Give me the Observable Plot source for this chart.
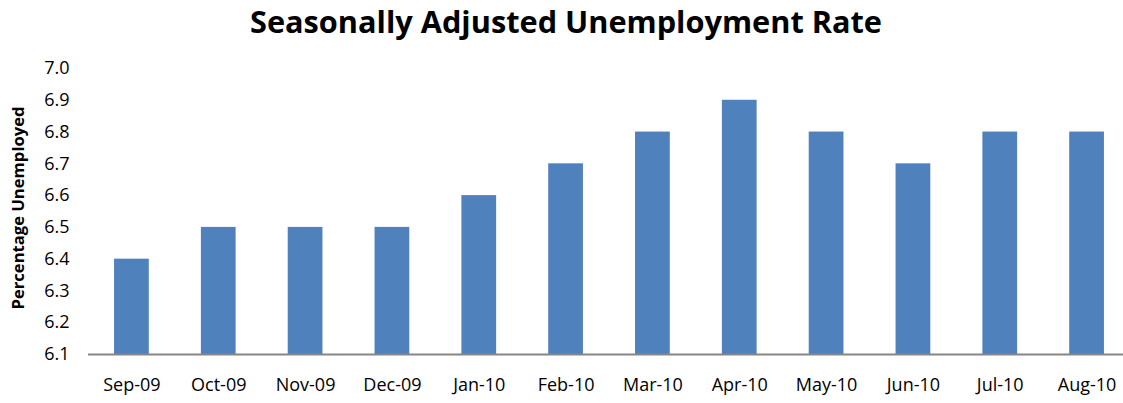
<!DOCTYPE html>
<html>
<head>
<meta charset="utf-8">
<script src="https://cdn.jsdelivr.net/npm/d3@7"></script>
<script src="https://cdn.jsdelivr.net/npm/@observablehq/plot@0.6"></script>
<style>
  html, body { margin: 0; padding: 0; background: #fff; overflow: hidden; }
  svg { display: block; }
</style>
</head>
<body>
<div id="chart"></div>
<script>
const months = ["Sep-09","Oct-09","Nov-09","Dec-09","Jan-10","Feb-10","Mar-10","Apr-10","May-10","Jun-10","Jul-10","Aug-10"];
const rates = [6.4, 6.5, 6.5, 6.5, 6.6, 6.7, 6.8, 6.9, 6.8, 6.7, 6.8, 6.8];
const yTicks = [6.1, 6.2, 6.3, 6.4, 6.5, 6.6, 6.7, 6.8, 6.9, 7.0];
const titleText = "Seasonally Adjusted Unemployment Rate";
const yLabel = "Percentage Unemployed";

const data = months.map((m, i) => ({month: m, rate: rates[i]}));

const chart = Plot.plot({
  width: 1123,
  height: 403,
  marginTop: 68,
  marginBottom: 49,
  marginLeft: 88,
  marginRight: 0,
  style: {fontFamily: "Open Sans", fontSize: "18px", color: "#000", background: "#fff"},
  x: {domain: months, range: [88, 1130], paddingInner: 0.6, paddingOuter: 0.3, round: false, label: null},
  y: {domain: [6.1, 7.0], label: null},
  marks: [
    Plot.barY(data, {x: "month", y1: 6.1, y2: "rate", fill: "#4F81BD"}),
    Plot.ruleY([6.1], {stroke: "#868686", strokeWidth: 2}),
    Plot.axisX({tickSize: 0, tickPadding: 24, fontSize: 18, label: null}),
    Plot.axisY({ticks: yTicks, tickFormat: d => d.toFixed(1), tickSize: 0, tickPadding: 19, fontSize: 18, label: null})
  ]
});

const svg = d3.select(chart);
svg.append("text")
  .attr("x", 566).attr("y", 33)
  .attr("text-anchor", "middle")
  .attr("font-family", "Open Sans")
  .attr("font-weight", "bold")
  .attr("font-size", 31)
  .attr("textLength", 632)
  .attr("lengthAdjust", "spacingAndGlyphs")
  .attr("fill", "#000")
  .text(titleText);
svg.append("text")
  .attr("transform", "translate(24,208) rotate(-90)")
  .attr("text-anchor", "middle")
  .attr("font-family", "Open Sans")
  .attr("font-weight", "bold")
  .attr("font-size", 16.5)
  .attr("textLength", 203)
  .attr("lengthAdjust", "spacingAndGlyphs")
  .attr("fill", "#000")
  .text(yLabel);

document.getElementById("chart").appendChild(chart);
</script>
</body>
</html>
